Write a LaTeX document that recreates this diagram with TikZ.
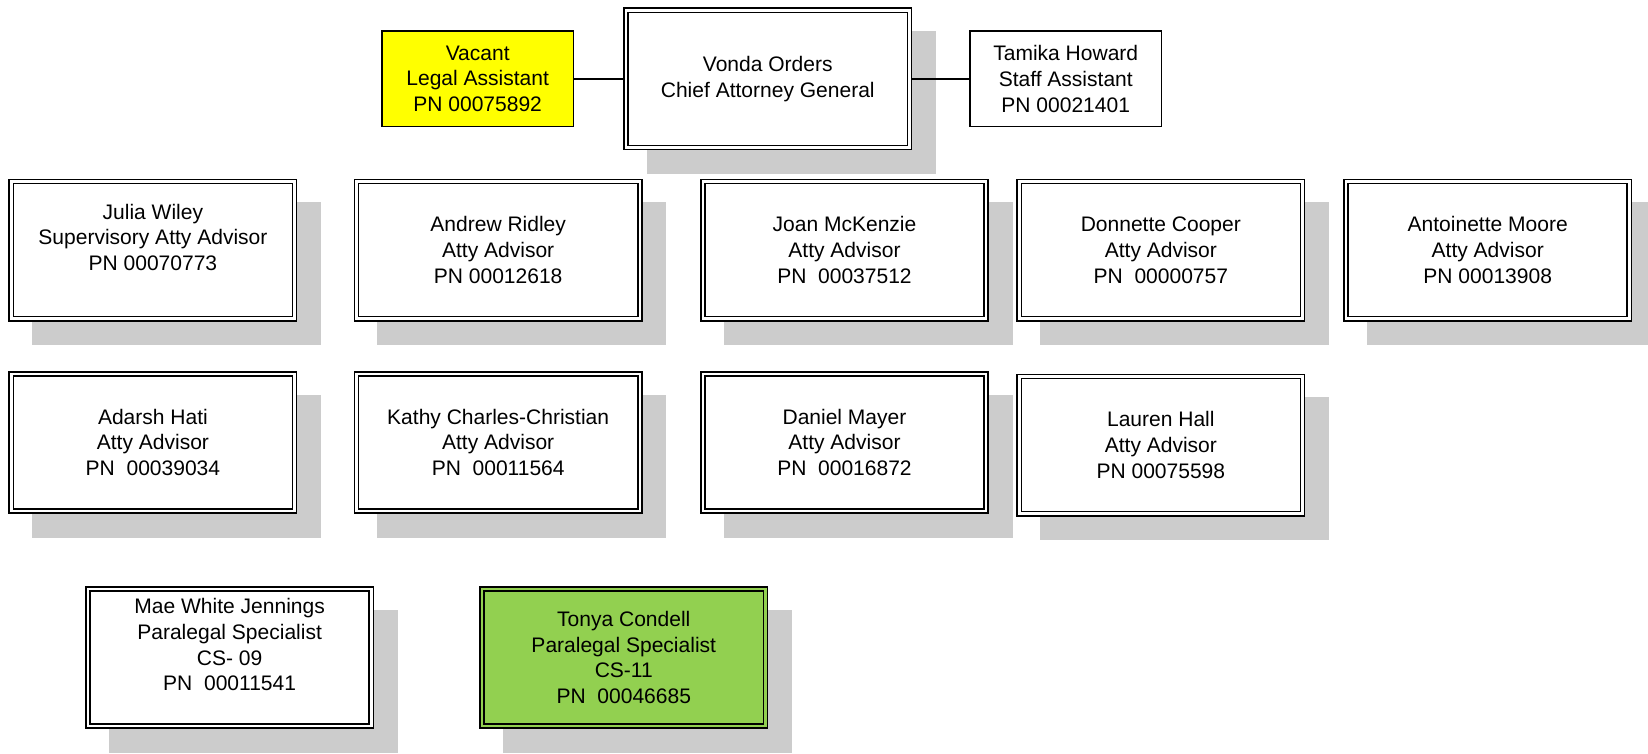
\documentclass[tikz,border=0pt]{standalone}
\usepackage{fontspec}
\setmainfont{Liberation Sans}
\usepackage{tikz}
\usetikzlibrary{
	positioning,
	backgrounds
}
\definecolor{shadowgray}{HTML}{CCCCCC}
\definecolor{vacantyellow}{HTML}{FFFF00}
\definecolor{paragreen}{HTML}{92D050}
\tikzset{
	node distance=183pt,
	every node/.append style={
		font=\fontsize{20}{24.5}\selectfont,
		align=center
	},
	post/.style={
		draw, fill=white, double=white,
		line width=1.5pt, double distance=2.5pt,
		minimum width=269.5pt, minimum height=130.5pt,
		inner sep=0pt, outer sep=2.75pt
	},
	staff/.style={
		draw, fill=white, line width=1.5pt,
		minimum width=182pt, minimum height=91pt,
		inner sep=0pt, outer sep=0.75pt
	},
	every edge/.append style={
		line width=1.5pt
	}
}

\begin{document}
\begin{tikzpicture}[x=1pt,y=-1pt]
	\useasboundingbox (0,0) rectangle (1568,717);
	\draw
		node[staff,fill=vacantyellow]   (vacant) at (454.5,75)  {Vacant\\Legal Assistant\\PN 00075892}
		node[post]                      (vonda)  at (730.5,75)  {Vonda Orders\\Chief Attorney General}
		node[staff]                     (tamika) at (1014,75)   {Tamika Howard\\Staff Assistant\\PN 00021401}

		node[post] (julia)      at (145.5,238)  {Julia Wiley\\Supervisory Atty Advisor\\PN 00070773\\~}
		node[post] (andrew)     at (474,238)    {Andrew Ridley\\Atty Advisor\\PN 00012618}
		node[post] (joan)       at (803.5,238)  {Joan McKenzie\\Atty Advisor\\PN~~00037512}
		node[post] (donnette)   at (1104.5,238) {Donnette Cooper\\Atty Advisor\\PN~~00000757}
		node[post] (antoinette) at (1415.5,238) {Antoinette Moore\\Atty Advisor\\PN 00013908}

		node[post,below of=julia]               (adarsh) {Adarsh Hati\\Atty Advisor\\PN~~00039034}
		node[post,below of=andrew]              (kathy)  {Kathy Charles-Christian\\Atty Advisor\\PN~~00011564}
		node[post,below of=joan]                (daniel) {Daniel Mayer\\Atty Advisor\\PN~~00016872}
		node[post,below of=donnette,yshift=-2.5pt] (lauren) {Lauren Hall\\Atty Advisor\\PN 00075598}

		node[post] (mae)   at (218.5,625.5) {Mae White Jennings\\Paralegal Specialist\\CS- 09\\PN~~00011541\\~}
		node[post,fill=paragreen,double=paragreen] (tonya) at (593.5,625.5) {Tonya Condell\\Paralegal Specialist\\CS-11\\PN~~00046685}

		(vacant) edge (vonda)
		(vonda)  edge (tamika)
	;
	% drop shadows
	\begin{scope}[on background layer]
		\foreach \p in {vonda,julia,andrew,joan,donnette,antoinette,adarsh,kathy,daniel,lauren,mae,tonya}
			\fill[shadowgray] ([shift={(22.5,22.5)}]\p.north west) rectangle ([shift={(22.5,22.5)}]\p.south east);
	\end{scope}
\end{tikzpicture}
\end{document}
